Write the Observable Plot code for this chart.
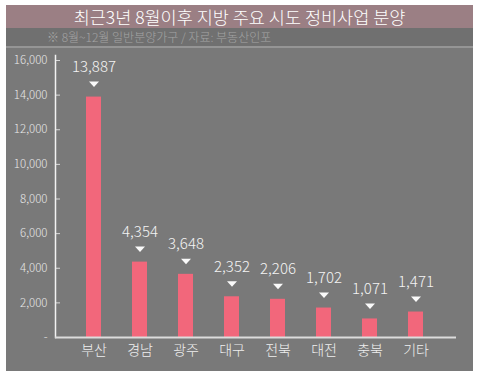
<!DOCTYPE html>
<html><head><meta charset="utf-8">
<script src="https://cdn.jsdelivr.net/npm/d3@7"></script>
<script src="https://cdn.jsdelivr.net/npm/@observablehq/plot@0.6"></script>
<style>
body{margin:0;background:#fff;width:482px;height:380px;overflow:hidden;position:relative;font-family:"Noto Sans CJK KR","Noto Sans",sans-serif;}
#panel{position:absolute;left:6px;top:5px;width:467px;height:366px;background:#797979;}
#title{height:23px;background:#9b7f84;color:#fff;font-size:17.5px;font-weight:300;line-height:23px;text-align:center;}
#sub{height:18px;background:#707070;color:#a4a4a4;font-size:12px;font-weight:300;line-height:18px;padding-left:41px;border-bottom:2px solid #959595;}
#chart{position:absolute;left:0;top:0;}
</style></head>
<body>
<div id="panel"><div id="title">최근3년 8월이후 지방 주요 시도 정비사업 분양</div><div id="sub">※ 8월~12월 일반분양가구 / 자료: 부동산인포</div></div>
<div id="chart"></div>
<script>
const regions = ["부산","경남","광주","대구","전북","대전","충북","기타"];
const units = [13887,4354,3648,2352,2206,1702,1071,1471];
const yTicks = [0,2000,4000,6000,8000,10000,12000,14000,16000];
const data = regions.map((r,i)=>({region:r, value:units[i]}));
const fmt = d3.format(",");
const flatTri = {draw(ctx){ctx.moveTo(-5,-2.5);ctx.lineTo(5,-2.5);ctx.lineTo(0,3);ctx.closePath();}};
const W=482,H=380,ML=55,MR=26;
const chart = Plot.plot({
  width:W,height:H,marginLeft:ML,marginRight:MR,marginTop:55,marginBottom:43,
  style:{background:"transparent",fontFamily:"'Noto Sans CJK KR','Noto Sans',sans-serif",fontWeight:300},
  x:{domain:regions,range:[51,457],padding:0.68,label:null},
  y:{domain:[0,16000],range:[337,60],label:null},
  marks:[
    Plot.barY(data,{x:"region",y:"value",fill:"#f2677b"}),
    Plot.ruleY(yTicks.slice(1),{stroke:"#d8d8d8",insetRight:W-ML-MR-5}),
    Plot.frame({anchor:"left",stroke:"#f2f2f2",strokeWidth:1.5}),
    Plot.ruleY([0],{stroke:"#dcdcdc",strokeWidth:2}),
    Plot.axisY({ticks:yTicks,tickSize:0,tickPadding:8,fontSize:11.5,color:"#e8e8e8",tickFormat:d=>d===0?"-":fmt(d)}),
    Plot.axisX({tickSize:0,tickPadding:8,fontSize:14,color:"#efefef"}),
    Plot.dot(data,{x:"region",y:"value",symbol:flatTri,fill:"#fafafa",stroke:null,dy:-13}),
    Plot.text(data,{x:"region",y:"value",text:d=>fmt(d.value),dy:-30,fontSize:15,fill:"#f4f4f4"})
  ]
});
document.getElementById("chart").append(chart);
</script>
</body></html>
